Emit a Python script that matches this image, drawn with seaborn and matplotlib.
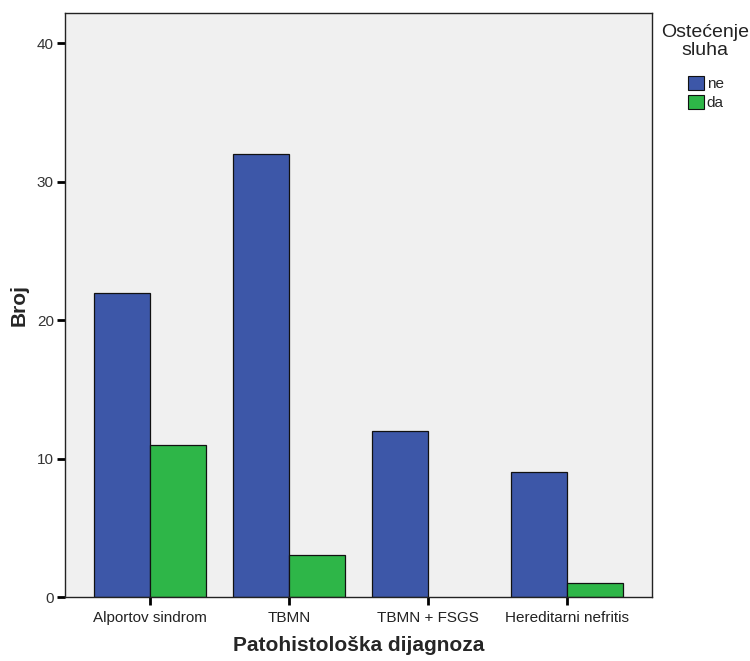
import matplotlib
matplotlib.use("Agg")
import matplotlib.pyplot as plt
from matplotlib.patches import Patch
import seaborn as sns
import pandas as pd

categories = ["Alportov sindrom", "TBMN", "TBMN + FSGS", "Hereditarni nefritis"]
hue_levels = ["ne", "da"]
values_ne = [22, 32, 12, 9]
values_da = [11, 3, 0, 1]
y_ticks = [0, 10, 20, 30, 40]

df = pd.DataFrame({
    "dijagnoza": categories * 2,
    "sluh": ["ne"] * len(categories) + ["da"] * len(categories),
    "broj": values_ne + values_da,
})

sns.set_theme(style="white")
plt.rcParams["font.family"] = ["Liberation Sans", "DejaVu Sans"]

fig = plt.figure(figsize=(7.5, 6.61), dpi=100)
ax = fig.add_axes([0.0867, 0.0968, 0.7826, 0.8835])
ax.set_facecolor("#F0F0F0")

palette = {"ne": "#3D57A8", "da": "#2EB648"}
sns.barplot(data=df, x="dijagnoza", y="broj", hue="sluh", order=categories,
            hue_order=hue_levels, palette=palette, width=0.81, gap=0,
            edgecolor="#111111", linewidth=0.9, saturation=1, ax=ax, legend=False)
for p in ax.patches:
    if p.get_height() == 0:
        p.set_visible(False)

ax.set_xlim(-0.61, 3.61)
ax.set_ylim(0, 42.2)
ax.set_yticks(y_ticks)
ax.set_yticklabels([str(v) for v in y_ticks], fontsize=11, color="#333333")
ax.set_xticks(range(len(categories)))
ax.set_xticklabels(categories, fontsize=11, color="#222222")
ax.tick_params(axis="both", direction="out", length=6, width=2, color="black",
               bottom=True, left=True, top=False, right=False, pad=2)
ax.tick_params(axis="x", pad=4)
for sp in ax.spines.values():
    sp.set_visible(True)
    sp.set_color("#222222")
    sp.set_linewidth(1.0)

ax.set_xlabel("Patohistološka dijagnoza", fontsize=15, fontweight="bold", labelpad=8)
ax.set_ylabel("Broj", fontsize=15, fontweight="bold", labelpad=6)

fig.text(0.94, 1 - 24 / 661, "Ostećenje\nsluha", ha="center", va="top",
         fontsize=14, color="#222222", linespacing=1.1)

handles = [Patch(facecolor=palette[h], edgecolor="#111111", linewidth=0.8, label=h)
           for h in hue_levels]
leg = ax.legend(handles=handles, loc="upper left", bbox_to_anchor=(1.062, 1 - 63 / 584),
                frameon=False, fontsize=11,
                handlelength=1.0, handleheight=1.0, handletextpad=0.2,
                labelspacing=0.25, borderaxespad=0.0, borderpad=0.0)

fig.savefig("out.png", dpi=100)
